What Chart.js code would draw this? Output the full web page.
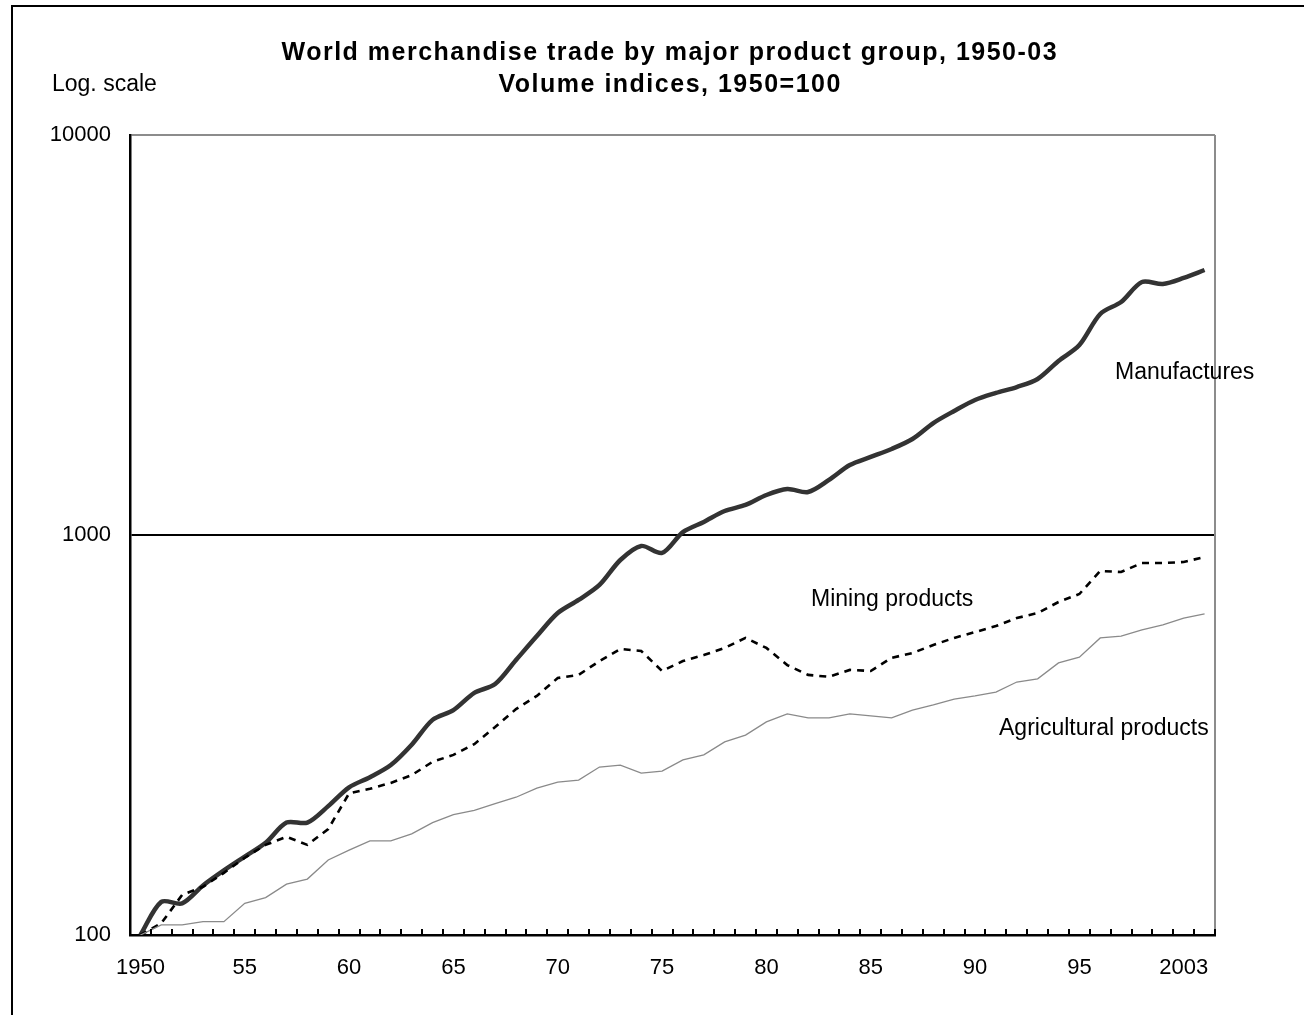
<!DOCTYPE html>
<html>
<head>
<meta charset="utf-8">
<script src="https://cdn.jsdelivr.net/npm/chart.js@4.4.1/dist/chart.umd.min.js"></script>
<style>
  html,body{margin:0;padding:0;background:#fff;overflow:hidden;}
  #wrap{position:relative;width:1304px;height:1015px;overflow:hidden;font-family:"Liberation Sans",Arial,sans-serif;color:#000;}
  #frame{position:absolute;left:11px;top:5px;width:1400px;height:1100px;border:2px solid #000;}
  canvas{position:absolute;left:0;top:0;}
  .txt{position:absolute;white-space:nowrap;line-height:1;}
</style>
</head>
<body>
<div id="wrap">
  <div id="frame"></div>
  <canvas id="c" width="1304" height="1015"></canvas>
  <div class="txt" id="t1" style="font-weight:bold;font-size:25px;letter-spacing:1.5px;">World merchandise trade by major product group, 1950-03</div>
  <div class="txt" id="t2" style="font-weight:bold;font-size:25px;letter-spacing:1.5px;">Volume indices, 1950=100</div>
  <div class="txt" style="font-size:23px;left:52px;top:72px;">Log. scale</div>
  <div class="txt" style="font-size:23px;left:1115px;top:360px;">Manufactures</div>
  <div class="txt" style="font-size:23px;left:811px;top:587px;">Mining products</div>
  <div class="txt" style="font-size:23px;left:999px;top:716px;">Agricultural products</div>
</div>
<script>
// category positions (one per year on the original axis)
const years = ["1950","1951","1952","1953","1954","1955","1956","1957","1958","1959",
  "1960","1961","1962","1963","1964","1965","1966","1967","1968","1969",
  "1970","1971","1972","1973","1974","1975","1976","1977","1978","1979",
  "1980","1981","1982","1983","1984","1985","1986","1987","1988","1989",
  "1990","1991","1992","1993","1994","1995","1996","1997","1998","1999",
  "2000","2001"];
const tickLabels = ["1950","55","60","65","70","75","80","85","90","95","2003"];

const manufactures = [100,121,120,133,145,157,170,191,191,210,
  234,248,266,299,345,365,403,424,487,559,
  638,688,750,866,939,902,1017,1078,1148,1189,
  1259,1303,1281,1373,1496,1567,1641,1738,1905,2042,
  2175,2265,2344,2455,2723,2985,3569,3824,4290,4241,
  4391,4597];
const mining = [100,107,126,132,143,156,168,176,168,184,
  226,232,240,251,271,282,300,331,367,396,
  439,447,484,519,513,457,484,501,522,553,
  522,473,447,442,460,457,493,507,531,553,
  572,592,620,638,680,712,813,808,851,851,
  856,881];
const agricultural = [100,106,106,108,108,120,124,134,138,154,
  163,172,172,179,191,200,205,213,221,233,
  241,244,263,266,254,257,274,282,304,316,
  341,357,349,349,357,353,349,365,376,389,
  396,405,429,437,479,495,553,559,579,596,
  620,635];
const yTicks = [100,1000,10000];

// center the two title lines
function centerText(id, cx, baseline) {
  const el = document.getElementById(id);
  const fs = parseFloat(el.style.fontSize);
  el.style.left = (cx - el.offsetWidth/2) + "px";
  el.style.top = (baseline - 0.8465*fs) + "px";
}
centerText("t1", 670, 60);
centerText("t2", 670, 92);

const frameBits = {
  id: "frameBits",
  afterDatasetsDraw(chart) {
    const {ctx, chartArea: a, scales: {x}} = chart;
    ctx.save();
    // gray right edge
    ctx.strokeStyle = "#8c8c8c";
    ctx.lineWidth = 2;
    ctx.beginPath();
    ctx.moveTo(a.right, a.top);
    ctx.lineTo(a.right, a.bottom);
    ctx.stroke();
    // inner tick marks between categories
    ctx.strokeStyle = "#000";
    ctx.lineWidth = 2;
    const n = years.length;
    const step = (x.getPixelForValue(n-1) - x.getPixelForValue(0)) / (n-1);
    for (let k = 0; k <= n; k++) {
      const px = Math.round(x.getPixelForValue(0) - step/2 + k*step);
      ctx.beginPath();
      ctx.moveTo(px, a.bottom);
      ctx.lineTo(px, a.bottom - 6);
      ctx.stroke();
    }
    ctx.restore();
  }
};

new Chart(document.getElementById("c"), {
  type: "line",
  data: {
    labels: years,
    datasets: [
      {label:"Agricultural products", data:agricultural, borderColor:"#8a8a8a", borderWidth:1.3, pointRadius:0, tension:0},
      {label:"Mining products", data:mining, borderColor:"#000", borderWidth:2.6, borderDash:[7,6], pointRadius:0, tension:0},
      {label:"Manufactures", data:manufactures, borderColor:"#333", borderWidth:4.5, pointRadius:0, tension:0.3}
    ]
  },
  options: {
    responsive:false,
    animation:false,
    layout:{padding:{left:0, right:89, top:135, bottom:0}},
    plugins:{legend:{display:false}, tooltip:{enabled:false}, title:{display:false}},
    scales:{
      x:{
        type:"category",
        offset:true,
        afterFit(s){ s.height = 80; },
        grid:{display:false, drawTicks:false},
        border:{display:true, color:"#000", width:2.5},
        ticks:{
          autoSkip:false, maxRotation:0, padding:20, color:"#000",
          font:{family:"'Liberation Sans', Arial, sans-serif", size:22},
          callback:(v, i) => i % 5 === 0 ? tickLabels[i/5] : ""
        }
      },
      y:{
        type:"logarithmic",
        min:100, max:10000,
        afterFit(s){ s.width = 130; },
        afterBuildTicks(s){ s.ticks = yTicks.map(v => ({value:v})); },
        grid:{
          drawTicks:false,
          color:(c) => c.tick && c.tick.value === 1000 ? "#000" : (c.tick && c.tick.value === 10000 ? "#8c8c8c" : "rgba(0,0,0,0)"),
          lineWidth:2
        },
        border:{display:true, color:"#000", width:2.5},
        ticks:{
          padding:19, color:"#000",
          font:{family:"'Liberation Sans', Arial, sans-serif", size:22},
          callback:(v) => String(v)
        }
      }
    }
  },
  plugins:[frameBits]
});
</script>
</body>
</html>
